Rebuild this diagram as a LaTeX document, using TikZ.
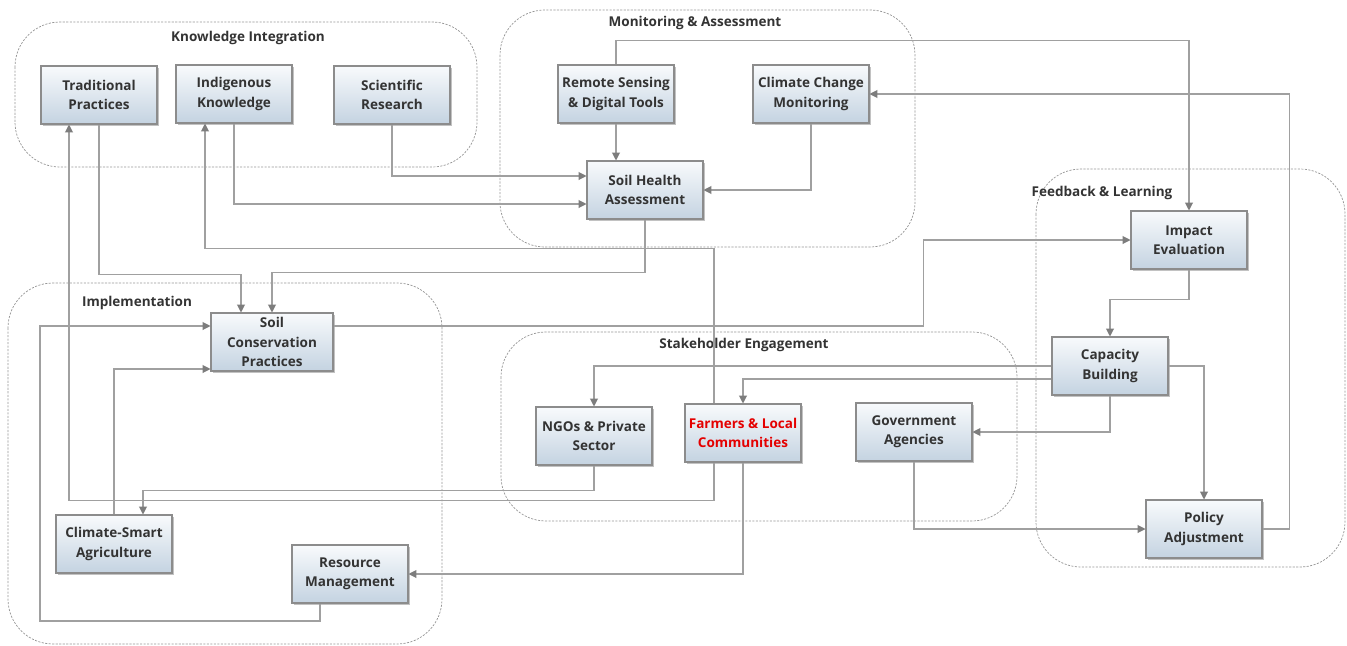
\documentclass[tikz,border=0pt]{standalone}
\usepackage{fontspec}
\setmainfont{Open Sans}
\usetikzlibrary{positioning, arrows.meta, calc, shadows}

\definecolor{linegray}{RGB}{160,160,160}
\definecolor{tipgray}{RGB}{125,125,125}
\definecolor{boxedge}{RGB}{140,140,140}
\definecolor{boxtop}{RGB}{248,250,252}
\definecolor{boxbot}{RGB}{196,211,225}
\definecolor{textgray}{RGB}{51,51,51}
\definecolor{farmred}{RGB}{228,0,0}
\definecolor{groupgray}{RGB}{150,150,150}

\tikzset{
  box/.style={rectangle, draw=boxedge, line width=0.6pt, top color=boxtop, bottom color=boxbot,
    minimum width=2.32cm, minimum height=1.16cm, inner sep=1pt, align=center, text=textgray,
    font=\fontsize{7.7}{11}\selectfont\bfseries,
    drop shadow={shadow xshift=1.2pt, shadow yshift=-1.2pt, fill=black!40, opacity=0.6}},
  group/.style={draw=groupgray, line width=0.4pt, dash pattern=on 1.2pt off 0.8pt, rounded corners=0.9cm},
  grouplabel/.style={text=textgray, font=\fontsize{7.7}{11}\selectfont\bfseries},
  conn/.style={draw=linegray, line width=0.6pt, -{Triangle[length=4.5pt,width=4.5pt,color=tipgray]}}
}

\begin{document}
\begin{tikzpicture}[x=0.02cm, y=-0.02cm]
  \useasboundingbox (0,0) rectangle (1347,646);

  % Draw groups
  \draw[group] (15,22) rectangle (477,167);
  \draw[group] (500,10) rectangle (915,247);
  \draw[group] (1036,169) rectangle (1345,567);
  \draw[group] (8,283) rectangle (442,644);
  \draw[group] (501,332) rectangle (1017,521);

  \node[grouplabel] (lblki) at (248,38) {Knowledge Integration};
  \node[grouplabel] (lblma) at (695,23) {Monitoring \& Assessment};
  \node[grouplabel] (lblfl) at (1102,193) {Feedback \& Learning};
  \node[grouplabel] (lblim) at (137,303) {Implementation};
  \node[grouplabel] (lblse) at (744,345) {Stakeholder Engagement};

  % Boxes
  \foreach \n/\x/\y/\t in {tp/99/95/{Traditional\\Practices}, ik/234/94/{Indigenous\\Knowledge},
      sr/392/95/{Scientific\\Research}, rs/616/94/{Remote Sensing\\\& Digital Tools},
      ccm/811/94/{Climate Change\\Monitoring}, sha/645/190/{Soil Health\\Assessment},
      ie/1189/240/{Impact\\Evaluation}, cb/1110/366/{Capacity\\Building},
      pa/1204/529/{Policy\\Adjustment}, csa/114/544/{Climate-Smart\\Agriculture},
      rm/350/574/{Resource\\Management}, ngo/594/436/{NGOs \& Private\\Sector},
      ga/914/432/{Government\\Agencies}} {
    \node[box] (\n) at (\x,\y) {\t};
  }
  \node[box, minimum width=2.44cm] (scp) at (272,342) {Soil\\Conservation\\Practices};
  \node[box, text=farmred] (flc) at (743,433) {Farmers \& Local\\Communities};

  % Draw connectors
  \draw[conn] (rs.north) -- ++(0,-24) -| (ie.north);
  \draw[conn] (rs.south) -- (rs.south |- sha.north);
  \draw[conn] (ccm.south) |- (sha.east);
  \draw[conn] (pa.east) -- ++(27,0) |- (ccm.east);
  \draw[conn] (sr.south) |- ($(sha.west)+(0,-14)$);
  \draw[conn] (ik.south) |- ($(sha.west)+(0,14)$);
  \draw[conn] (tp.south) -- ++(0,150) -| ($(scp.north)+(-31,0)$);
  \draw[conn] (sha.south) -- ++(0,53) -| (scp.north);
  \draw[conn] ($(flc.north)+(-29,0)$) -- ++(0,-155) -| ($(ik.south)+(-29,0)$);
  \draw[conn] ($(flc.south)+(-29,0)$) -- ++(0,38) -| ($(tp.south)+(-30,0)$);
  \draw[conn] (ngo.south) -- ++(0,25) -| ($(csa.north)+(29,0)$);
  \draw[conn] (flc.south) |- (rm.east);
  \draw[conn] (ga.south) |- (pa.west);
  \draw[conn] (cb.south) |- (ga.east);
  \draw[conn] (cb.west) -| (ngo.north);
  \draw[conn] ($(cb.west)+(0,13)$) -| (flc.north);
  \draw[conn] (cb.east) -| (pa.north);
  \draw[conn] (ie.south) -- ++(0,30) -| (cb.north);
  \draw[conn] ($(scp.east)+(0,-16)$) -- ++(590,0) |- (ie.west);
  \draw[conn] ($(rm.south)+(-30,0)$) |- (40,621) |- ($(scp.west)+(0,-16)$);
  \draw[conn] (csa.north) |- ($(scp.west)+(0,27)$);
\end{tikzpicture}
\end{document}
